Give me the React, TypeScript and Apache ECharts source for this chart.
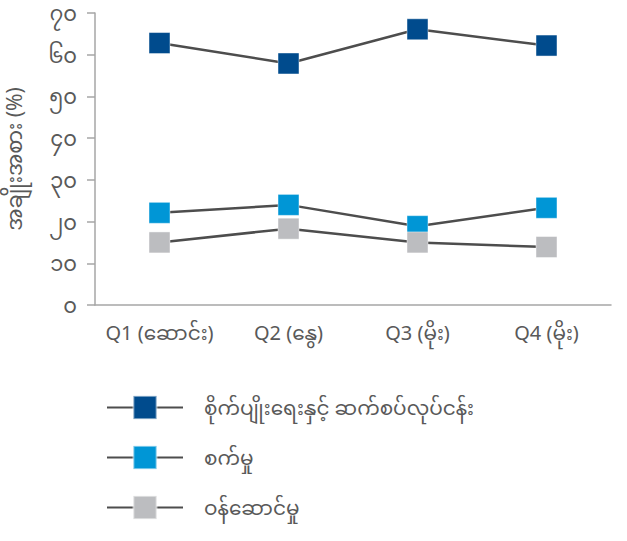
import React, { useEffect, useRef } from "react";
import * as echarts from "echarts";

const categories = ["Q1 (ဆောင်း)", "Q2 (နွေ)", "Q3 (မိုး)", "Q4 (မိုး)"];
const seriesNames = ["စိုက်ပျိုးရေးနှင့် ဆက်စပ်လုပ်ငန်း", "စက်မှု", "ဝန်ဆောင်မှု"];
const agriculture = [62.8, 57.9, 66.1, 62.2];
const industry = [22.1, 24.0, 18.9, 23.3];
const services = [15.0, 18.3, 15.0, 13.9];
const yTickLabels = ["၀", "၁၀", "၂၀", "၃၀", "၄၀", "၅၀", "၆၀", "၇၀"];
const yAxisName = "အချိုးအစား (%)";

const colors = ["#004B8D", "#0096D6", "#BCBDC0"];

export default function App() {
  const ref = useRef<HTMLDivElement>(null);
  useEffect(() => {
    if (!ref.current) return;
    const chart = echarts.init(ref.current, undefined, { renderer: "svg" });
    const font = "'Noto Sans', 'Noto Sans Myanmar', sans-serif";
    const mk = (name: string, data: number[], color: string) => ({
      name,
      type: "line",
      data,
      symbol: "rect",
      symbolSize: 21,
      itemStyle: { color, borderColor: "rgba(255,255,255,0.45)", borderWidth: 1 },
      lineStyle: { color: "#4D4D4D", width: 2.5 },
      emphasis: { disabled: true },
    });
    chart.setOption({
      animation: false,
      grid: { left: 95, right: 16, top: 13, bottom: 236, containLabel: false, outerBoundsMode: "none" },
      xAxis: {
        type: "category",
        data: categories,
        boundaryGap: true,
        axisLine: { lineStyle: { color: "#A6A6A6", width: 1.5 } },
        axisTick: { alignWithLabel: true, length: 8, lineStyle: { color: "#A6A6A6", width: 1.5 } },
        axisLabel: { color: "#595959", fontSize: 20, margin: 17, fontFamily: font, interval: 0, hideOverlap: false },
      },
      yAxis: {
        type: "value",
        min: 0,
        max: 70,
        interval: 10,
        name: yAxisName,
        nameLocation: "middle",
        nameGap: 71,
        nameRotate: 90,
        nameTextStyle: { color: "#595959", fontSize: 21, fontFamily: font },
        splitLine: { show: false },
        axisLine: { show: true, lineStyle: { color: "#A6A6A6", width: 1.5 } },
        axisTick: { show: true, length: 8, lineStyle: { color: "#A6A6A6", width: 1.5 } },
        axisLabel: {
          color: "#595959",
          fontSize: 21,
          margin: 18,
          fontFamily: font,
          formatter: (v: number) => yTickLabels[Math.round(v / 10)] ?? String(v),
        },
      },
      legend: {
        orient: "vertical",
        left: 101,
        top: 388,
        itemWidth: 76,
        itemHeight: 29,
        itemGap: 21,
        data: seriesNames,
        textStyle: { color: "#595959", fontSize: 20, lineHeight: 29, fontFamily: font, padding: [0, 0, 0, 16] },
      },
      series: [
        mk(seriesNames[0], agriculture, colors[0]),
        mk(seriesNames[1], industry, colors[1]),
        mk(seriesNames[2], services, colors[2]),
      ],
    });
    return () => chart.dispose();
  }, []);
  return <div ref={ref} style={{ width: 627, height: 541, position: "absolute", left: 0, top: 0 }} />;
}
